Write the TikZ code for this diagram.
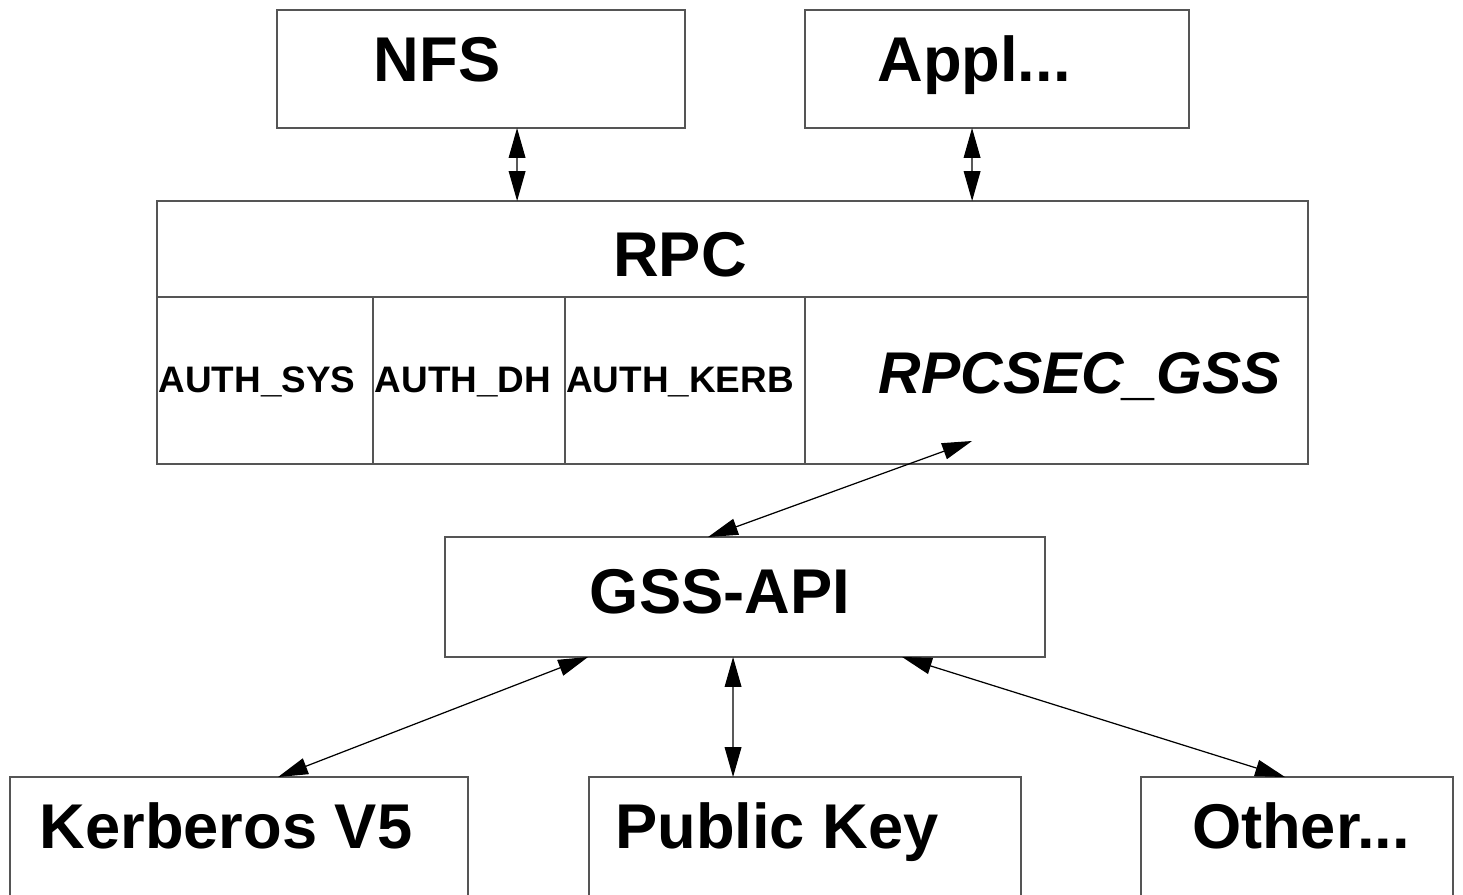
\documentclass[tikz,border=0pt]{standalone}
\usepackage{fontspec}
\setmainfont{Liberation Sans}
\usepackage{xcolor}
\usepackage{tikz}
\usetikzlibrary{positioning}
\usetikzlibrary{calc}
\usetikzlibrary{arrows.meta}
\definecolor{framegray}{HTML}{555555}

\begin{document}
\begin{tikzpicture}[x=0.02cm, y=-0.02cm,
        layer/.style={draw=framegray, line width=0.85pt, inner sep=0pt, outer sep=0pt},
        big/.style={font=\fontsize{36}{40}\selectfont\bfseries, anchor=base, inner sep=0pt},
        small/.style={font=\fontsize{21}{24}\selectfont\bfseries, anchor=base, inner sep=0pt},
        link/.style={<->, >={Triangle[length=17pt, width=9.5pt]}, line width=0.7pt}]
            \useasboundingbox (0,0) rectangle (1463,895);
            \clip (0,0) rectangle (1463,895);

            % applications
            \node [layer, minimum width=8.16cm, minimum height=2.36cm] (nfs) at (481,69) {};
            \node [layer, minimum width=7.68cm, minimum height=2.36cm] (appl) at (997,69) {};
            \node [big] (nfs label) at (437,82) {NFS};
            \node [big] (appl label) at (974,82) {Appl...};

            % rpc layer and its flavours
            \node [layer, minimum width=23.02cm, minimum height=1.92cm] (rpc) at (732.5,249) {};
            \node [layer, minimum width=4.32cm, minimum height=3.34cm] (syscell) at (265,380.5) {};
            \node [layer, minimum width=3.84cm, minimum height=3.34cm] (dhcell) at (469,380.5) {};
            \node [layer, minimum width=4.8cm, minimum height=3.34cm] (kerbcell) at (685,380.5) {};
            \node [layer, minimum width=10.06cm, minimum height=3.34cm] (seccell) at (1056.5,380.5) {};
            \node [big] (rpc label) at (680,276) {RPC};
            \node [small] (sys label) at (257,392) {AUTH\_SYS};
            \node [small] (dh label) at (463,392) {AUTH\_DH};
            \node [small] (kerb label) at (680,392) {AUTH\_KERB};
            \node [big, font=\fontsize{33.5}{38}\selectfont\bfseries\itshape] (sec label) at (1080,393) {RPCSEC\_GSS};

            % gss-api
            \node [layer, minimum width=12cm, minimum height=2.4cm] (gss) at (745,597) {};
            \node [big] (gss label) at (720,613) {GSS-API};

            % mechanisms
            \node [layer, minimum width=9.16cm, minimum height=2.6cm] (kerb) at (239,842) {};
            \node [layer, minimum width=8.64cm, minimum height=2.6cm] (pubkey) at (805,842) {};
            \node [layer, minimum width=6.24cm, minimum height=2.6cm] (other) at (1297,842) {};
            \node [big] (kerb label) at (226,848) {Kerberos V5};
            \node [big] (pubkey label) at (777,848) {Public Key};
            \node [big] (other label) at (1301,848) {Other...};

            \draw[link] ($(nfs.south west)+(240,0)$) -- ($(rpc.north west)+(360,0)$);
            \draw[link] ($(appl.south west)+(167,0)$) -- ($(rpc.north west)+(815,0)$);
            \draw[link] ($(seccell.south west)+(167,-23)$) -- ($(gss.north west)+(263,0)$);
            \draw[link] ($(gss.south west)+(143,0)$) -- ($(kerb.north west)+(268,0)$);
            \draw[link] ($(gss.south west)+(288,0)$) -- ($(pubkey.north west)+(144,0)$);
            \draw[link] ($(gss.south west)+(457,0)$) -- ($(other.north west)+(144,0)$);
        \end{tikzpicture}
\end{document}
